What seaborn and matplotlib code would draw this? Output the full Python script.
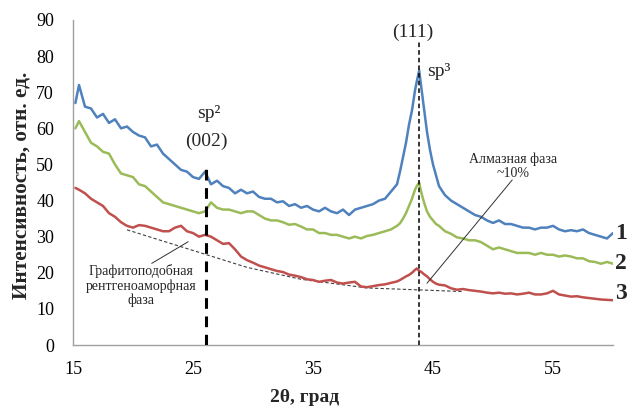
import numpy as np
import pandas as pd
import matplotlib
matplotlib.use("Agg")
import matplotlib.pyplot as plt
import seaborn as sns

# ---------------- data ----------------
two_theta = [15.2, 15.5, 16.0, 16.5, 17.0, 17.5, 18.0, 18.5, 19.0, 19.5,
             20.0, 20.5, 21.0, 21.5, 22.0, 22.5, 23.0, 23.5, 24.0, 24.5,
             25.0, 25.5, 26.0, 26.5, 27.0, 27.5, 28.0, 28.5, 29.0, 29.5,
             30.0, 30.5, 31.0, 31.5, 32.0, 32.5, 33.0, 33.5, 34.0, 34.5,
             35.0, 35.5, 36.0, 36.5, 37.0, 37.5, 38.0, 38.5, 39.0, 39.5,
             40.0, 40.5, 41.0, 41.5, 42.0, 42.25, 42.5, 42.75, 43.0, 43.25,
             43.5, 43.65, 43.85, 44.0, 44.25, 44.5, 44.75, 45.0, 45.25, 45.5,
             46.0, 46.5, 47.0, 47.5, 48.0, 48.5, 49.0, 49.5, 50.0, 50.5,
             51.0, 51.5, 52.0, 52.5, 53.0, 53.5, 54.0, 54.5, 55.0, 55.5,
             56.0, 56.5, 57.0, 57.5, 58.0, 58.5, 59.0, 59.5, 60.0]

sample1 = [67.0, 72.0, 66.0, 65.5, 63.0, 64.0, 61.5, 62.5, 60.0, 60.5,
           59.0, 58.0, 57.5, 55.0, 55.5, 53.0, 51.5, 50.0, 48.5, 48.0,
           46.5, 46.0, 48.0, 44.5, 45.5, 44.0, 43.5, 42.0, 43.0, 42.0,
           42.5, 41.0, 40.5, 40.5, 39.5, 39.8, 38.5, 39.0, 38.0, 38.5,
           37.5, 37.0, 38.0, 37.0, 36.5, 37.5, 36.0, 37.5, 38.0, 38.5,
           39.0, 40.0, 40.5, 42.5, 44.5, 48.0, 52.0, 56.0, 61.0, 65.0,
           70.5, 73.0, 76.0, 72.0, 65.5, 59.0, 54.0, 50.0, 47.0, 44.0,
           41.5, 40.0, 39.0, 38.0, 37.0, 36.0, 35.5, 34.5, 33.8, 34.5,
           33.5, 33.5, 33.0, 32.5, 32.5, 32.0, 32.5, 32.5, 33.0, 32.0,
           31.5, 31.8, 31.5, 32.0, 31.0, 30.5, 30.0, 29.5, 31.0]

sample2 = [60.0, 62.0, 59.0, 56.0, 55.0, 53.5, 53.0, 50.0, 47.5, 47.0,
           46.5, 44.5, 44.0, 42.5, 41.0, 39.5, 39.0, 38.5, 38.0, 37.5,
           37.0, 36.5, 37.0, 39.5, 38.0, 37.5, 37.5, 37.0, 36.5, 37.0,
           37.0, 36.0, 35.0, 34.5, 34.5, 34.0, 33.3, 33.5, 32.8, 32.0,
           32.0, 31.0, 31.0, 30.5, 30.5, 30.0, 29.5, 30.0, 29.5, 30.2,
           30.5, 31.0, 31.5, 32.0, 33.0, 33.7, 35.0, 36.5, 38.5, 40.5,
           43.0, 44.0, 45.0, 42.5, 39.5, 37.0, 35.5, 34.5, 33.5, 33.0,
           31.5, 30.8, 29.8, 29.5, 29.0, 29.0, 28.5, 27.5, 26.5, 27.0,
           26.5, 26.0, 25.5, 25.5, 25.5, 25.0, 25.5, 25.0, 25.0, 24.5,
           24.8, 24.5, 24.0, 24.0, 23.2, 23.0, 22.5, 23.0, 22.5]

sample3 = [43.5, 43.0, 42.0, 40.5, 39.5, 38.5, 36.5, 35.5, 34.0, 33.0,
           32.5, 33.2, 33.0, 32.5, 32.0, 31.5, 31.5, 32.5, 33.0, 31.5,
           31.0, 30.0, 30.5, 30.0, 29.0, 28.0, 28.2, 26.5, 24.5, 23.5,
           22.8, 22.0, 21.5, 21.0, 20.5, 20.2, 19.5, 19.2, 18.8, 18.2,
           18.0, 17.5, 17.8, 18.0, 17.3, 17.0, 17.3, 17.5, 16.2, 16.0,
           16.3, 16.6, 16.8, 17.2, 17.6, 18.0, 18.5, 19.0, 19.4, 20.0,
           20.8, 21.2, 20.5, 20.3, 19.6, 19.0, 18.2, 17.5, 17.0, 16.7,
           16.5, 15.7, 15.3, 15.5, 15.2, 15.0, 14.8, 14.5, 14.3, 14.5,
           14.2, 14.3, 14.0, 14.2, 14.5, 14.0, 14.0, 14.3, 15.0, 14.0,
           13.7, 13.4, 13.5, 13.2, 13.0, 12.8, 12.6, 12.5, 12.4]

series_names = ["1", "2", "3"]
series_colors = ["#4F81BD", "#9BBB59", "#C0504D"]
x_ticks = [15, 25, 35, 45, 55]
y_ticks = [0, 10, 20, 30, 40, 50, 60, 70, 80, 90]

# graphite-like amorphous background (annotation dashed line)
bg_x = [19.5, 29.5, 34.0, 39.5, 47.5]
bg_y = [31.9, 21.5, 18.2, 15.8, 14.8]

df = pd.DataFrame({
    "x": two_theta * 3,
    "y": sample1 + sample2 + sample3,
    "s": sum([[n] * len(two_theta) for n in series_names], []),
})

# ---------------- styling ----------------
sns.set_style("white")
plt.rcParams["font.family"] = ["Liberation Serif", "DejaVu Serif"]

fig = plt.figure(figsize=(6.38, 4.09), dpi=100)
ax = fig.add_axes([73 / 638, 1 - 345 / 409, 540 / 638, 325 / 409])

sns.lineplot(data=df, x="x", y="y", hue="s", palette=series_colors,
             hue_order=series_names, estimator=None, sort=True,
             linewidth=1.8, legend=False, ax=ax)

ax.set_xlim(15, 60)
ax.set_ylim(0, 90)
ax.set_xticks(x_ticks)
ax.set_yticks(y_ticks)
ax.set_xlabel("")
ax.set_ylabel("")

for s in ["top", "right"]:
    ax.spines[s].set_visible(False)
for s in ["left", "bottom"]:
    ax.spines[s].set_color("#A0A0A0")
    ax.spines[s].set_linewidth(1.0)
ax.tick_params(axis="both", direction="out", length=3.6, width=1.0,
               color="#A0A0A0", labelsize=13, labelcolor="black")
ax.tick_params(axis="x", pad=8)
ax.tick_params(axis="y", pad=10)
ax.grid(False)

# peak markers
ax.plot([26.1, 26.1], [0, 50.8], color="black", lw=2.2,
        linestyle=(0, (3.5, 2.5)), zorder=5)
ax.plot([43.85, 43.85], [0, 84], color="black", lw=1.1,
        linestyle=(0, (3, 2)), zorder=5)

# background dashed line
ax.plot(bg_x, bg_y, color="#404040", lw=0.8, linestyle=(0, (3, 2)), zorder=1)

# pointer lines
ax.plot([21.56, 24.6], [22.6, 28.6], color="#303030", lw=0.7, zorder=6)
ax.plot([44.5, 51.6], [17.1, 45.7], color="#303030", lw=0.7, zorder=6)

fs_big = 14
ax.text(26.3, 64.2, "sp²", ha="center", va="center", fontsize=fs_big)
ax.text(26.1, 56.3, "(002)", ha="center", va="center", fontsize=fs_big)
ax.text(43.3, 86.6, "(111)", ha="center", va="center", fontsize=fs_big)
ax.text(44.5, 75.7, "sp³", ha="left", va="center", fontsize=fs_big)

ax.text(51.7, 49.5, "Алмазная фаза\n~10%", ha="center", va="center",
        fontsize=10, linespacing=1.05)
ax.text(20.7, 16.4, "Графитоподобная\nрентгеноаморфная\nфаза",
        ha="center", va="center", fontsize=10, linespacing=1.1)

for name, yy in zip(series_names, [30.9, 22.6, 14.3]):
    ax.text(60.64, yy, name, ha="center", va="center", fontsize=17,
            fontweight="bold", clip_on=False)

fig.text(22 / 638, 1 - 185 / 409, "Интенсивность, отн. ед.", rotation=90,
         ha="center", va="center", fontsize=15.3, fontweight="bold")
fig.text(305 / 638, 1 - 398 / 409, "2θ, град", ha="center", va="center",
         fontsize=14, fontweight="bold")

fig.savefig("out.png", dpi=100)
